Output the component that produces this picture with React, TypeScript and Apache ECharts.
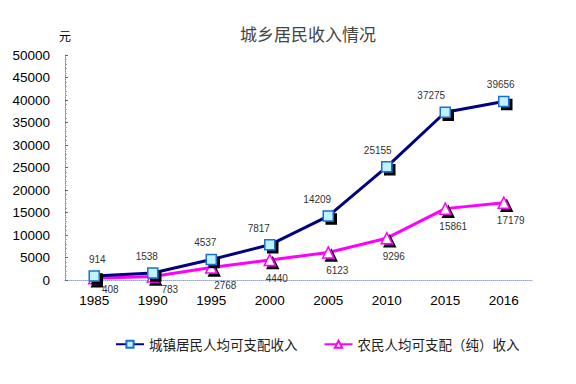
import React, { useEffect, useRef } from "react";
import * as echarts from "echarts";

const years = ["1985", "1990", "1995", "2000", "2005", "2010", "2015", "2016"];
const urban = [914, 1538, 4537, 7817, 14209, 25155, 37275, 39656];
const rural = [408, 783, 2768, 4440, 6123, 9296, 15861, 17179];
const urbanName = "城镇居民人均可支配收入";
const ruralName = "农民人均可支配（纯）收入";
const urbanLabelDx = [3, -6, -6, -11, -11, -9, -14, -3];
const ruralLabelDx = [16, 17, 14, 7, 9, 7, 8, 7];
const ruralLabelDy = [-7, -5, 0, 0, 0, 0, 0, 0];

export default function App() {
  const ref = useRef<HTMLDivElement>(null);
  useEffect(() => {
    if (!ref.current) return;
    const chart = echarts.init(ref.current, null, { renderer: "svg" });
    const labelFont = { fontFamily: "Liberation Sans", fontSize: 10, color: "#333" };
    chart.setOption({
      animation: false,
      backgroundColor: "#fff",
      title: {
        text: "城乡居民收入情况",
        left: 303,
        textAlign: "center",
        top: 20,
        textStyle: { fontFamily: "Noto Sans CJK SC", fontSize: 17, fontWeight: "normal", color: "#444" },
      },
      legend: {
        bottom: 28,
        left: 110,
        itemGap: 26,
        itemWidth: 28,
        itemHeight: 9,
        textStyle: { fontFamily: "Noto Sans CJK SC", fontSize: 13.5, color: "#222" },
        data: [urbanName, ruralName],
      },
      grid: { left: 65, right: 43, top: 55, bottom: 104 },
      xAxis: {
        type: "category",
        data: years,
        boundaryGap: true,
        axisLine: { lineStyle: { color: "#8fa8e0", type: "dotted", width: 1 } },
        axisTick: { inside: true, length: 4, lineStyle: { color: "#8fa8e0" } },
        axisLabel: { fontFamily: "Liberation Sans", fontSize: 13.5, color: "#000", margin: 13 },
      },
      yAxis: {
        type: "value",
        min: 0,
        max: 50000,
        interval: 5000,
        name: "元",
        nameGap: 14,
        nameTextStyle: { fontFamily: "Noto Sans CJK SC", fontSize: 12, color: "#000", align: "center" },
        axisLine: { show: true, lineStyle: { color: "#888", type: "dotted" } },
        axisTick: { show: true, inside: true, length: 3, lineStyle: { color: "#666" } },
        minorTick: { show: true, splitNumber: 5, length: 2, lineStyle: { color: "#aaa" } },
        splitLine: { show: false },
        axisLabel: {
          fontFamily: "Liberation Sans",
          fontSize: 13.5,
          color: "#000",
          margin: 15,
          formatter: (v: number) => String(v),
        },
      },
      series: [
        {
          name: urbanName,
          type: "line",
          data: urban.map((v, i) => ({
            value: v,
            label: { offset: [urbanLabelDx[i], 0] },
          })),
          symbol: "rect",
          symbolSize: 10,
          lineStyle: { color: "#000080", width: 3 },
          itemStyle: {
            color: "#bff3ff",
            borderColor: "#1d6fd0",
            borderWidth: 1.5,
            shadowColor: "#000",
            shadowOffsetX: 3,
            shadowOffsetY: 3,
            shadowBlur: 0,
          },
          label: { show: true, position: "top", distance: 6, ...labelFont },
          z: 3,
        },
        {
          name: ruralName,
          type: "line",
          data: rural.map((v, i) => ({
            value: v,
            label: { offset: [ruralLabelDx[i], ruralLabelDy[i]] },
          })),
          symbol: "triangle",
          symbolSize: 11,
          lineStyle: { color: "#ff00ff", width: 3 },
          itemStyle: {
            color: "#fff",
            borderColor: "#ff00ff",
            borderWidth: 1.5,
            shadowColor: "#000",
            shadowOffsetX: 3,
            shadowOffsetY: 3,
            shadowBlur: 0,
          },
          label: { show: true, position: "bottom", distance: 7, ...labelFont },
          z: 2,
        },
      ],
    });
    return () => chart.dispose();
  }, []);
  return <div ref={ref} style={{ width: 576, height: 384, position: "absolute", left: 0, top: 0 }} />;
}
